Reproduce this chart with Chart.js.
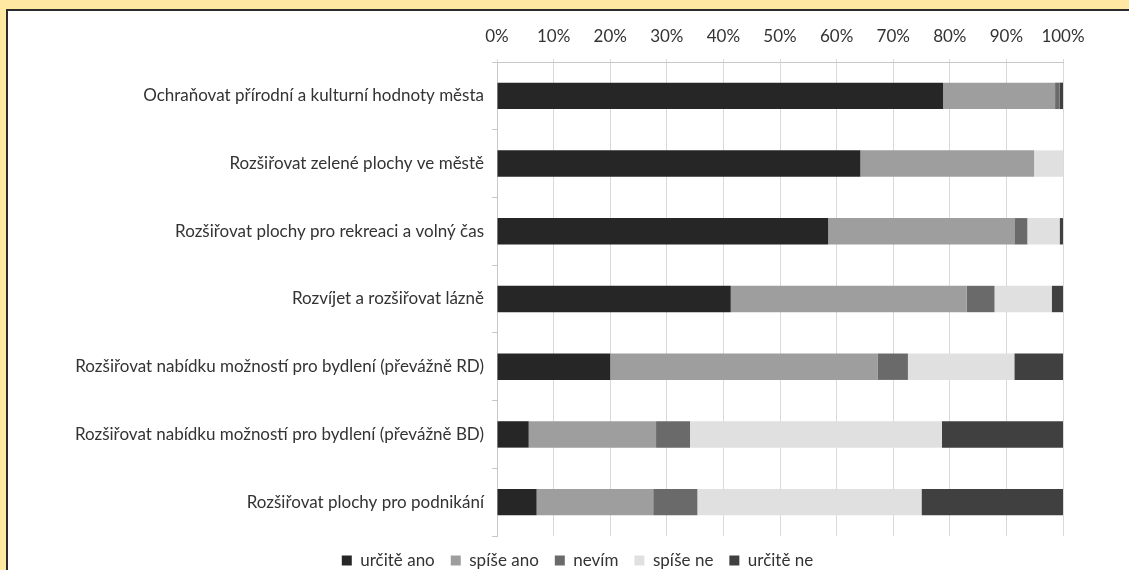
<!DOCTYPE html>
<html>
<head>
<meta charset="utf-8">
<script src="https://cdn.jsdelivr.net/npm/chart.js@4"></script>
<style>
  html, body { margin: 0; padding: 0; }
  body { width: 1129px; height: 570px; background: #fee8a2; position: relative; overflow: hidden; }
  #panel { position: absolute; left: 6px; top: 9px; right: 0; bottom: 0; background: #fff;
           border-left: 2px solid #2b2b2b; border-top: 2px solid #2b2b2b; }
  #wrap { position: absolute; left: 0; top: 0; width: 1129px; height: 570px; }
</style>
</head>
<body>
<div id="panel"></div>
<div id="wrap"><canvas id="chart"></canvas></div>
<script>
var categories = [
    'Ochraňovat přírodní a kulturní hodnoty města',
    'Rozšiřovat zelené plochy ve městě',
    'Rozšiřovat plochy pro rekreaci a volný čas',
    'Rozvíjet a rozšiřovat lázně',
    'Rozšiřovat nabídku možností pro bydlení (převážně RD)',
    'Rozšiřovat nabídku možností pro bydlení (převážně BD)',
    'Rozšiřovat plochy pro podnikání'
];

var seriesNames = ['určitě ano', 'spíše ano', 'nevím', 'spíše ne', 'určitě ne'];
var seriesColors = ['#262626', '#9e9e9e', '#6a6a6a', '#e0e0e0', '#404040'];

var urciteAno = [78.8, 64.2, 58.5, 41.3, 20.0, 5.6, 7.0];
var spiseAno  = [19.8, 30.7, 32.9, 41.7, 47.3, 22.5, 20.6];
var nevim     = [0.8, 0.0, 2.3, 4.9, 5.3, 6.0, 7.8];
var spiseNe   = [0.0, 5.1, 5.7, 10.1, 18.8, 44.5, 39.6];
var urciteNe  = [0.6, 0.0, 0.6, 2.0, 8.6, 21.4, 25.0];

var xTicks = [0, 10, 20, 30, 40, 50, 60, 70, 80, 90, 100];

var allSeries = [urciteAno, spiseAno, nevim, spiseNe, urciteNe];

var datasets = allSeries.map(function (values, i) {
    return {
        label: seriesNames[i],
        data: values,
        backgroundColor: seriesColors[i],
        borderWidth: 0,
        barPercentage: 0.78,
        categoryPercentage: 0.5
    };
});

Chart.defaults.font.family = 'Lato, "Open Sans", sans-serif';
Chart.defaults.font.size = 17;
Chart.defaults.color = '#333';

// the legend in the picture sits right of the canvas centre
var shiftLegend = {
    id: 'shiftLegend',
    afterLayout: function (chart) {
        chart.legend.left += 46;
        chart.legend.right += 46;
    }
};

new Chart(document.getElementById('chart'), {
    type: 'bar',
    data: { labels: categories, datasets: datasets },
    plugins: [shiftLegend],
    options: {
        indexAxis: 'y',
        responsive: true,
        maintainAspectRatio: false,
        animation: false,
        layout: { padding: { left: 0, right: 66, top: 0, bottom: -9 } },
        plugins: {
            legend: {
                position: 'bottom',
                labels: { boxWidth: 10, boxHeight: 10, padding: 16, color: '#333' }
            },
            tooltip: { enabled: false }
        },
        scales: {
            x: {
                position: 'top',
                stacked: true,
                min: 0,
                max: 100,
                afterBuildTicks: function (scale) {
                    scale.ticks = xTicks.map(function (v) { return { value: v }; });
                },
                ticks: {
                    padding: 12,
                    callback: function (v) { return v + '%'; }
                },
                grid: { color: '#d9d9d9', tickLength: 3 },
                border: { color: '#c8c8c8' },
                afterFit: function (scale) { scale.height = 62; }
            },
            y: {
                stacked: true,
                ticks: { padding: 8 },
                grid: { drawOnChartArea: false, tickLength: 5, color: '#c8c8c8' },
                border: { color: '#c8c8c8' },
                afterFit: function (scale) { scale.width = 497; }
            }
        }
    }
});
</script>
</body>
</html>
